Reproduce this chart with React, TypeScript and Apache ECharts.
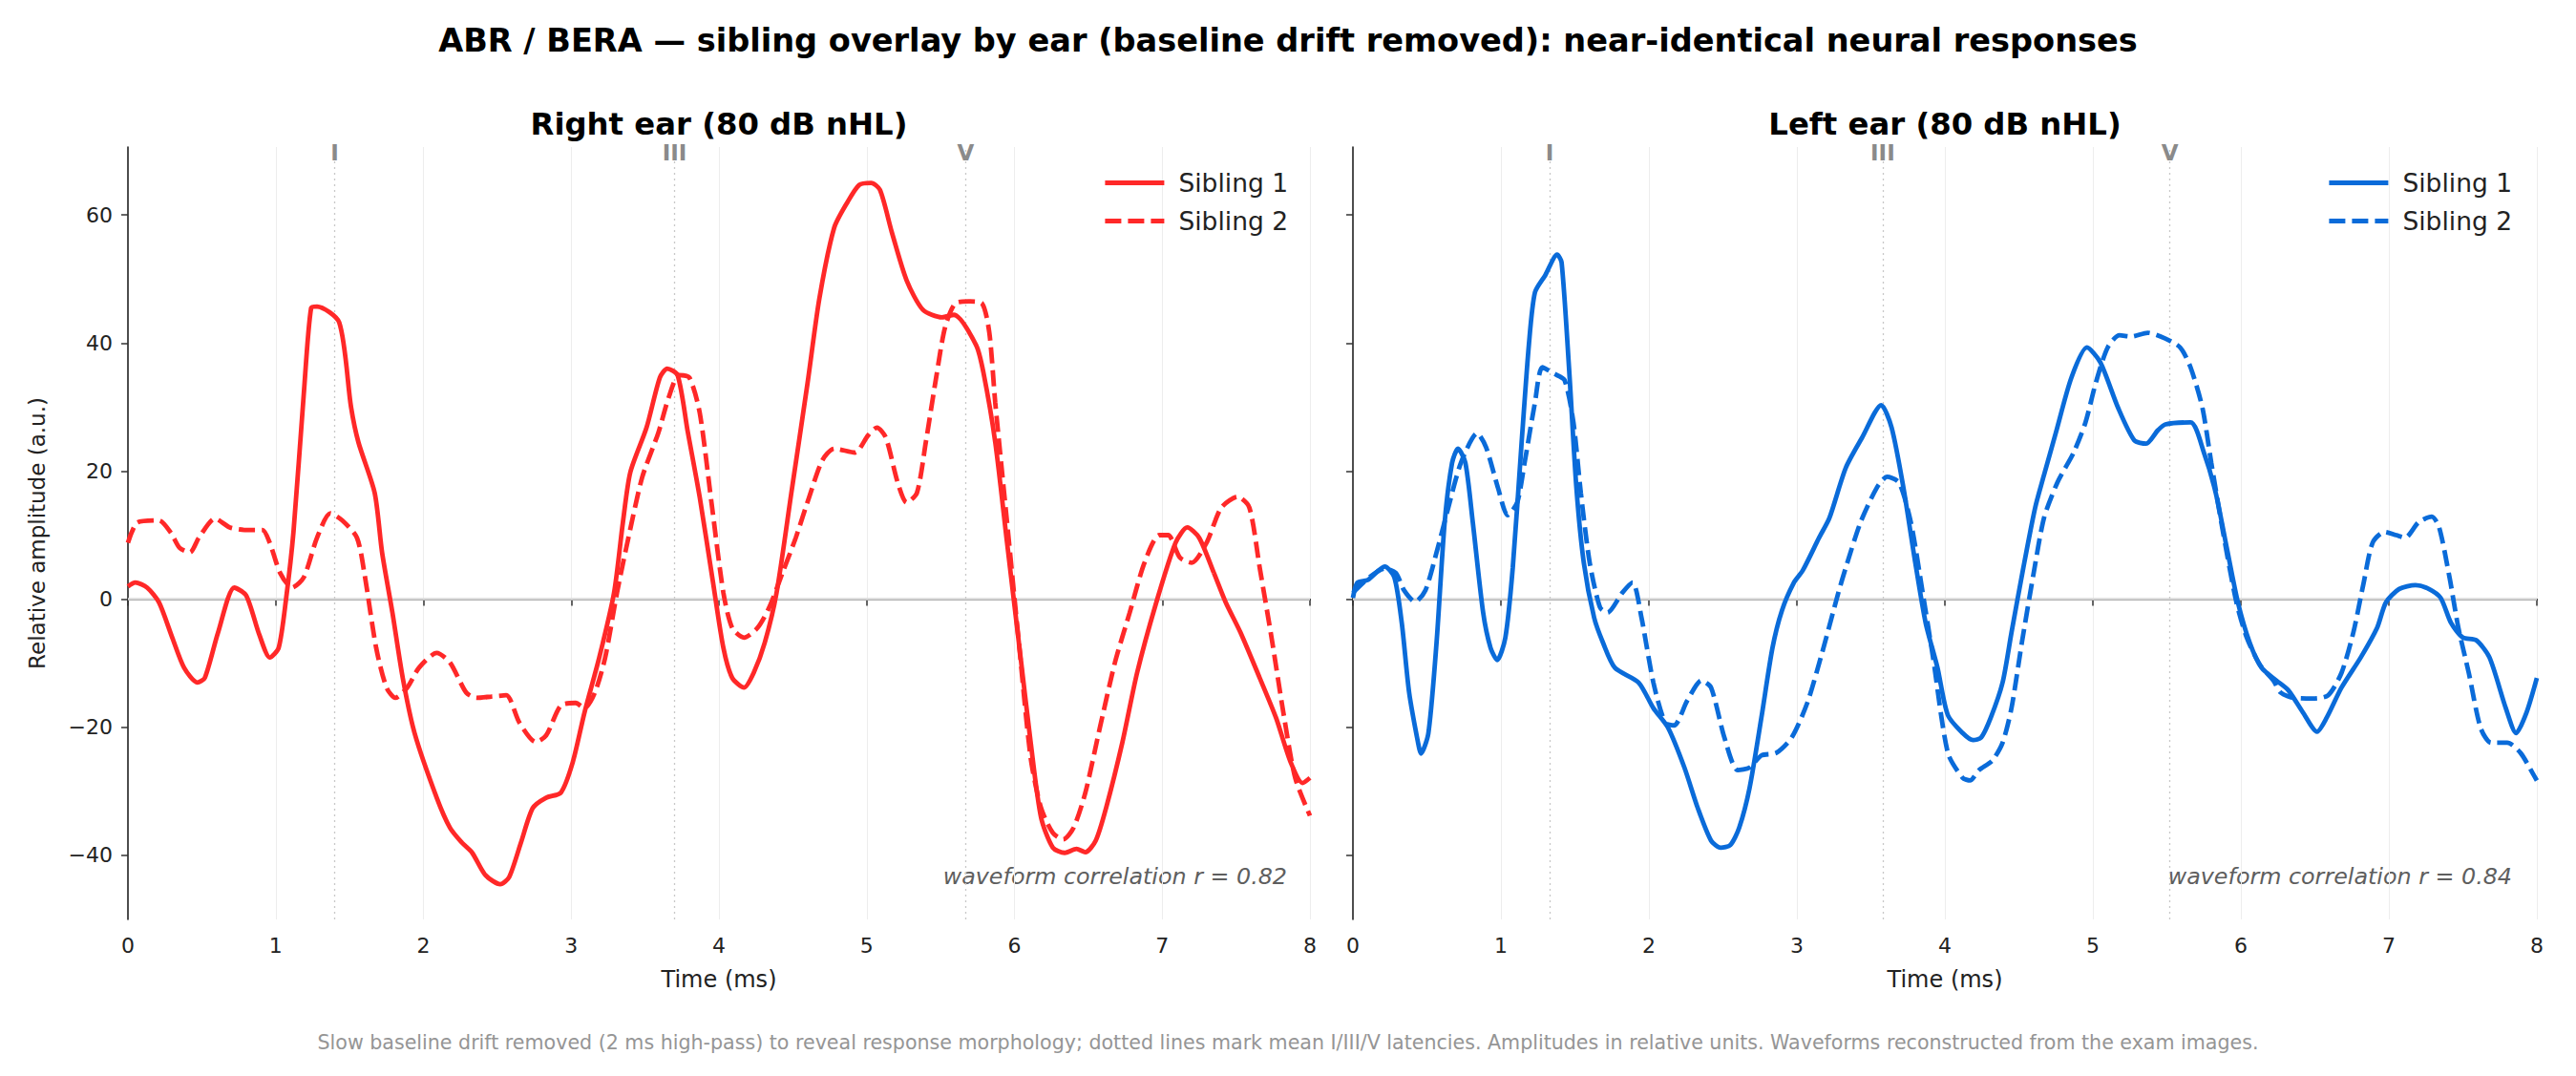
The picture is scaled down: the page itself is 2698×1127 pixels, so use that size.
import React, { useEffect, useRef } from 'react';
import * as echarts from 'echarts';

// time (ms) / relative amplitude pairs
const rightSib1 = [
  [0, 2.0], [0.05, 2.6], [0.13, 1.8], [0.21, -0.5], [0.3, -6], [0.38, -10.7], [0.47, -13], [0.52, -12.3],
  [0.61, -5.2], [0.72, 1.8], [0.8, 0.6], [0.89, -5.6], [0.96, -9.1], [1.02, -7.6], [1.07, 0], [1.12, 10.4],
  [1.19, 32], [1.24, 45.5], [1.28, 45.7], [1.43, 43.2], [1.51, 30], [1.56, 24.5], [1.67, 16.6], [1.72, 7.3],
  [1.79, -2.1], [1.86, -12.3], [1.94, -20.9], [2.09, -31], [2.18, -35.7], [2.26, -38], [2.33, -39.6], [2.42, -43.1],
  [2.52, -44.5], [2.58, -43.4], [2.66, -38], [2.74, -32.6], [2.83, -31], [2.93, -30.2], [3.01, -25.5], [3.09, -17.7],
  [3.19, -9.1], [3.29, 1], [3.35, 12], [3.4, 19.8], [3.51, 26.8], [3.6, 34.6], [3.65, 36], [3.72, 35],
  [3.79, 26], [3.87, 15.9], [3.96, 2.6], [4.03, -7.6], [4.09, -12.3], [4.17, -13.8], [4.235, -11.5], [4.31, -6.8],
  [4.39, 1], [4.49, 16.6], [4.6, 33.8], [4.68, 47], [4.78, 58], [4.87, 62], [4.95, 64.7], [5.03, 65],
  [5.09, 63.9], [5.17, 57.3], [5.27, 49.8], [5.38, 45.2], [5.51, 44], [5.59, 44.4], [5.74, 39.7], [5.79, 35.4],
  [5.87, 24.5], [5.95, 8.8], [6.03, -6.8], [6.11, -22.4], [6.18, -34.1], [6.26, -38.8], [6.34, -39.6], [6.42, -39],
  [6.48, -39.5], [6.55, -37.7], [6.62, -32.6], [6.73, -22.4], [6.83, -11.5], [6.96, -0.5], [7.09, 8.8], [7.17, 11.2],
  [7.25, 9.6], [7.35, 4.1], [7.43, -0.5], [7.53, -5.2], [7.66, -12.3], [7.77, -18.5], [7.87, -25.5], [7.95, -28.7],
  [8.0, -27.9],
];

const rightSib2 = [
  [0, 8.8], [0.065, 12], [0.21, 12.3], [0.29, 10.4], [0.35, 8], [0.42, 7.3], [0.48, 9.6], [0.59, 12.6],
  [0.69, 11.2], [0.8, 10.8], [0.91, 10.8], [0.96, 8.8], [1.03, 4.1], [1.11, 1.8], [1.19, 3.4], [1.28, 9.6],
  [1.37, 13.4], [1.45, 12.3], [1.55, 9.6], [1.6, 4.1], [1.68, -7.6], [1.75, -13.8], [1.81, -15.4], [1.89, -13.8],
  [1.97, -10.7], [2.09, -8.4], [2.18, -9.9], [2.29, -14.6], [2.36, -15.4], [2.46, -15.2], [2.56, -15], [2.65, -19.3],
  [2.76, -22.3], [2.83, -21.3], [2.93, -16.6], [3.03, -16.2], [3.09, -17], [3.16, -14.6], [3.23, -9.1], [3.31, 1],
  [3.38, 8.8], [3.48, 19], [3.59, 26], [3.66, 31.5], [3.73, 35], [3.8, 34.6], [3.87, 29.1], [3.95, 15],
  [4.03, 1], [4.09, -4.5], [4.17, -6], [4.26, -4.5], [4.34, -1.3], [4.43, 4.1], [4.52, 9.6], [4.61, 15.9],
  [4.7, 21.7], [4.78, 23.5], [4.92, 22.9], [5.01, 25.6], [5.07, 26.8], [5.13, 25.2], [5.21, 18.2], [5.27, 15.1],
  [5.34, 16.6], [5.4, 24.5], [5.47, 34.6], [5.53, 42.4], [5.6, 46.2], [5.69, 46.5], [5.78, 46.2], [5.83, 41.6],
  [5.87, 30.7], [5.95, 12], [6.03, -6.8], [6.11, -24.8], [6.18, -32.6], [6.26, -36.5], [6.33, -37.5], [6.4, -35.7],
  [6.48, -30.2], [6.57, -20.9], [6.68, -9.9], [6.78, -2.1], [6.88, 5.7], [6.98, 10], [7.04, 10], [7.12, 6.5],
  [7.2, 5.7], [7.3, 8.8], [7.4, 14.3], [7.51, 16], [7.59, 14.3], [7.66, 4.9], [7.74, -6], [7.82, -17.7],
  [7.9, -27.9], [8.0, -33.8],
];

const leftSib1 = [
  [0, 0.2], [0.03, 2.6], [0.1, 3], [0.215, 5.1], [0.28, 3.4], [0.33, -3.7], [0.38, -14.6], [0.44, -22.4],
  [0.46, -24.1], [0.51, -20.9], [0.565, -6.8], [0.62, 12], [0.67, 21.3], [0.71, 23.5], [0.76, 21.3], [0.81, 12],
  [0.88, -2.1], [0.93, -7.6], [0.975, -9.5], [1.03, -6], [1.08, 4.9], [1.14, 24.5], [1.19, 40], [1.23, 47.9],
  [1.3, 50.6], [1.38, 53.8], [1.41, 52.6], [1.46, 36.2], [1.51, 17.4], [1.56, 5.7], [1.63, -2.9], [1.69, -6.8],
  [1.77, -10.7], [1.93, -13], [2.03, -17], [2.13, -20.1], [2.24, -26.3], [2.33, -32.6], [2.42, -37.7], [2.485, -38.8],
  [2.55, -38.4], [2.61, -35.7], [2.68, -29.5], [2.76, -18.5], [2.835, -7.6], [2.9, -1.7], [2.98, 2.6], [3.04, 4.5],
  [3.15, 9.6], [3.22, 12.7], [3.33, 20.5], [3.44, 25.2], [3.57, 30.3], [3.64, 26.8], [3.72, 17.4], [3.8, 5.7],
  [3.87, -3.7], [3.95, -10.7], [4.02, -18.1], [4.12, -20.9], [4.19, -22], [4.245, -21.6], [4.31, -18.5], [4.39, -13],
  [4.45, -5.2], [4.53, 4.9], [4.61, 14.3], [4.67, 19.4], [4.75, 26], [4.855, 34.6], [4.96, 39.3], [5.05, 37],
  [5.17, 29.9], [5.28, 24.8], [5.36, 24.3], [5.44, 26.4], [5.49, 27.3], [5.66, 27.6], [5.75, 22.9], [5.83, 16.6],
  [5.905, 8], [5.98, -0.5], [6.06, -6.8], [6.14, -10.7], [6.24, -12.7], [6.32, -14.2], [6.42, -17.7], [6.515, -20.7],
  [6.58, -18.5], [6.68, -13.8], [6.81, -9.1], [6.92, -4.5], [6.98, -0.5], [7.07, 1.6], [7.18, 2.2], [7.27, 1.6],
  [7.35, 0.2], [7.42, -3.7], [7.5, -6], [7.59, -6.4], [7.68, -9.1], [7.79, -17], [7.86, -20.9], [7.93, -17.7],
  [8.0, -12.3],
];

const leftSib2 = [
  [0, 1], [0.11, 3.4], [0.215, 4.8], [0.29, 4.1], [0.345, 1.4], [0.42, -0.4], [0.49, 1.4], [0.565, 7.3],
  [0.64, 13.9], [0.73, 21.3], [0.84, 25.9], [0.9, 23.7], [0.98, 17.4], [1.045, 13.1], [1.11, 15.1], [1.16, 21.3],
  [1.23, 30.7], [1.28, 36.2], [1.36, 35.2], [1.43, 34.2], [1.49, 27.6], [1.54, 16.6], [1.6, 5.7], [1.67, -1.3],
  [1.72, -2.1], [1.82, 1], [1.89, 2.6], [1.95, -2.9], [2.03, -13], [2.11, -19.3], [2.17, -19.7], [2.26, -15.8],
  [2.355, -12.7], [2.42, -13.8], [2.51, -21.6], [2.6, -26.7], [2.68, -26.3], [2.76, -24.4], [2.86, -24], [2.965, -21.6],
  [3.07, -16.2], [3.17, -8.4], [3.28, 1], [3.33, 4.9], [3.43, 12], [3.54, 17.4], [3.61, 19.1], [3.69, 18.2],
  [3.77, 12], [3.85, 1], [3.92, -9.1], [4.02, -24], [4.12, -27.9], [4.17, -28.3], [4.23, -26.7], [4.32, -25.2],
  [4.39, -22.4], [4.45, -17], [4.52, -6.8], [4.6, 4.1], [4.67, 12.7], [4.76, 18.2], [4.87, 22.9], [4.95, 27.6],
  [5.02, 33.8], [5.1, 39.3], [5.18, 41.2], [5.26, 41], [5.37, 41.6], [5.49, 40.7], [5.59, 39.3], [5.66, 36.2],
  [5.74, 29.9], [5.8, 21.3], [5.88, 10.4], [5.97, -0.5], [6.04, -6], [6.13, -10.3], [6.22, -12.7], [6.27, -14.6],
  [6.36, -15.4], [6.49, -15.5], [6.59, -15], [6.68, -11.5], [6.76, -5.2], [6.83, 2.6], [6.89, 8.8], [6.97, 10.5],
  [7.05, 10], [7.11, 9.6], [7.2, 12], [7.29, 12.9], [7.34, 11.2], [7.41, 3.4], [7.47, -4.5], [7.54, -11.5],
  [7.62, -20.1], [7.69, -22.4], [7.8, -22.4], [7.89, -24], [7.97, -27.1], [8.0, -28.3],
];

// mean I / III / V latencies (ms)
const waveNames = ['I', 'III', 'V'];
const rightLatencies = [1.4, 3.7, 5.67];
const leftLatencies = [1.33, 3.58, 5.52];

const yTicks = [-40, -20, 0, 20, 40, 60];
const correlations = [0.82, 0.84];

const FONT = 'DejaVu Sans';
const RED = '#ff2828';
const BLUE = '#0a6bd9';
const LINE_W = 4.8;

const App = () => {
  const chartRef = useRef(null);

  useEffect(() => {
    const myChart = echarts.init(chartRef.current, null, { renderer: 'svg' });

    const grids = [
      { left: 134, top: 154, width: 1238, height: 809 },
      { left: 1417, top: 154, width: 1240, height: 809 },
    ];

    const xAxis = grids.map((g, i) => ({
      type: 'value',
      gridIndex: i,
      min: 0,
      max: 8,
      interval: 1,
      name: 'Time (ms)',
      nameLocation: 'middle',
      nameGap: 51,
      nameTextStyle: { fontFamily: FONT, fontSize: 24, color: '#222' },
      axisLine: { show: true, lineStyle: { color: '#333', width: 2 } },
      axisTick: { show: true, length: 7, lineStyle: { color: '#333', width: 1.5 } },
      axisLabel: { fontFamily: FONT, fontSize: 22, color: '#222', margin: 16 },
      splitLine: { show: true, lineStyle: { color: '#ededed', width: 1 } },
    }));

    const yAxis = grids.map((g, i) => ({
      type: 'value',
      gridIndex: i,
      min: -50,
      max: 70.6,
      name: i === 0 ? 'Relative amplitude (a.u.)' : '',
      nameLocation: 'middle',
      nameGap: 84,
      nameTextStyle: { fontFamily: FONT, fontSize: 23, color: '#222' },
      axisLine: { show: true, lineStyle: { color: '#222', width: 1.6 } },
      axisTick: { show: true, length: 7, customValues: yTicks, lineStyle: { color: '#333', width: 1.5 } },
      axisLabel: {
        show: i === 0,
        customValues: yTicks,
        fontFamily: FONT,
        fontSize: 22,
        color: '#222',
        margin: 16,
        formatter: (v) => String(v).replace('-', '\u2212'),
      },
      splitLine: { show: false },
    }));

    const markerSeries = (latencies, i) => ({
      type: 'line',
      xAxisIndex: i,
      yAxisIndex: i,
      data: [],
      silent: true,
      markLine: {
        z: 1,
        silent: true,
        symbol: 'none',
        data: [
          {
            yAxis: 0,
            lineStyle: { color: '#dadada', width: 2.5, type: 'solid' },
            label: { show: false },
          },
          ...latencies.map((t, k) => ({
            xAxis: t,
            name: waveNames[k],
            lineStyle: { color: '#c8c8c8', width: 1.3, type: [2, 4] },
            label: {
              show: true,
              position: 'end',
              distance: -17,
              formatter: waveNames[k],
              fontFamily: FONT,
              fontWeight: 'bold',
              fontSize: 23,
              color: '#8a8a8a',
            },
          })),
        ],
      },
    });

    const waveSeries = (name, data, i, color, dashed) => ({
      type: 'line',
      name,
      xAxisIndex: i,
      yAxisIndex: i,
      data,
      smooth: 0.25,
      symbol: 'none',
      z: 3,
      lineStyle: { color, width: LINE_W, type: dashed ? [17, 7] : 'solid' },
      itemStyle: { color },
    });

    const legendBase = {
      orient: 'vertical',
      top: 173,
      itemWidth: 62,
      itemHeight: 25,
      itemGap: 13,
      selectedMode: false,
      itemStyle: { opacity: 0 },
      lineStyle: { width: LINE_W },
      formatter: (n) => n.split('|')[1],
      textStyle: { fontFamily: FONT, fontSize: 26.5, color: '#222', padding: [0, 0, 0, 10] },
    };

    const option = {
      animation: false,
      backgroundColor: '#fff',
      grid: grids,
      xAxis,
      yAxis,
      legend: [
        { ...legendBase, left: 1150, data: ['R|Sibling 1', 'R|Sibling 2'] },
        { ...legendBase, left: 2432, data: ['L|Sibling 1', 'L|Sibling 2'] },
      ],
      series: [
        markerSeries(rightLatencies, 0),
        markerSeries(leftLatencies, 1),
        waveSeries('R|Sibling 1', rightSib1, 0, RED, false),
        waveSeries('R|Sibling 2', rightSib2, 0, RED, true),
        waveSeries('L|Sibling 1', leftSib1, 1, BLUE, false),
        waveSeries('L|Sibling 2', leftSib2, 1, BLUE, true),
      ],
      graphic: [
        {
          type: 'text',
          x: 1349,
          y: 42,
          style: {
            text: 'ABR / BERA \u2014 sibling overlay by ear (baseline drift removed): near-identical neural responses',
            fontFamily: FONT,
            fontWeight: 'bold',
            fontSize: 33.6,
            fill: '#000',
            align: 'center',
            verticalAlign: 'middle',
          },
        },
        {
          type: 'text',
          x: 753,
          y: 130,
          style: {
            text: 'Right ear (80 dB nHL)',
            fontFamily: FONT,
            fontWeight: 'bold',
            fontSize: 32.3,
            fill: '#000',
            align: 'center',
            verticalAlign: 'middle',
          },
        },
        {
          type: 'text',
          x: 2037,
          y: 130,
          style: {
            text: 'Left ear (80 dB nHL)',
            fontFamily: FONT,
            fontWeight: 'bold',
            fontSize: 32.3,
            fill: '#000',
            align: 'center',
            verticalAlign: 'middle',
          },
        },
        ...correlations.map((r, i) => ({
          type: 'text',
          x: i === 0 ? 1348 : 2631,
          y: 918,
          style: {
            text: 'waveform correlation r = ' + r.toFixed(2),
            fontFamily: FONT,
            fontStyle: 'italic',
            fontSize: 23.8,
            fill: '#5e5e5e',
            align: 'right',
            verticalAlign: 'middle',
          },
        })),
        {
          type: 'text',
          x: 1349,
          y: 1092,
          style: {
            text: 'Slow baseline drift removed (2 ms high-pass) to reveal response morphology; dotted lines mark mean I/III/V latencies. Amplitudes in relative units. Waveforms reconstructed from the exam images.',
            fontFamily: FONT,
            fontSize: 20.6,
            fill: '#959595',
            align: 'center',
            verticalAlign: 'middle',
          },
        },
      ],
    };

    myChart.setOption(option);

    return () => {
      myChart.dispose();
    };
  }, []);

  return (
    <div
      ref={chartRef}
      style={{ position: 'fixed', left: 0, top: 0, width: '2698px', height: '1127px' }}
    ></div>
  );
};

export default App;
